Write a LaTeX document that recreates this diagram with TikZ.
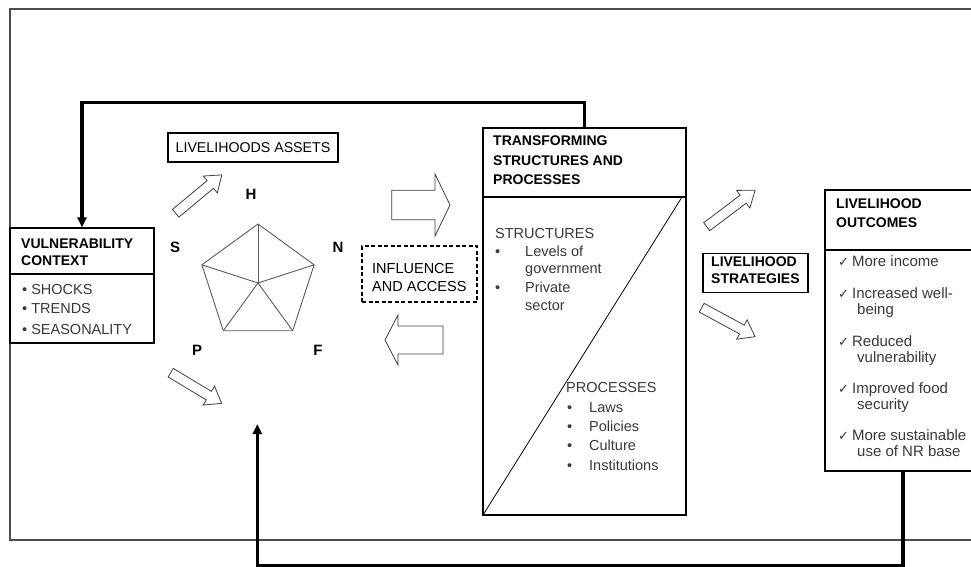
\documentclass[tikz,border=0pt]{standalone}
\usepackage{fontspec}
\setmainfont{Liberation Sans}
\newfontfamily\symfont{DejaVu Sans}
\usetikzlibrary{arrows.meta}
\tikzset{
  bx/.style={draw=black, line width=1.1pt, inner sep=0pt},
  ttl/.style={inner sep=0pt, anchor=base west, font=\fontsize{14}{16}\selectfont\bfseries},
  txt/.style={inner sep=0pt, anchor=base west, font=\fontsize{14.5}{16}\selectfont, text=black!78},
  otxt/.style={inner sep=0pt, anchor=base west, font=\fontsize{15}{16}\selectfont, text=black!78},
  lbl/.style={inner sep=0pt, font=\fontsize{15}{16}\selectfont\bfseries},
  fb/.style={line width=3.3pt, -{Triangle[length=10pt,width=9pt]}},
  frame/.style={draw=black!70, line width=1.3pt},
  pent/.style={draw=black!65, line width=0.9pt},
  pics/blockarrow/.style args={#1/#2/#3/#4}{code={
    \draw[line width=0.8pt, draw=black!75, fill=white, line join=miter]
      (0,-#2) -- (#1-#4,-#2) -- (#1-#4,-#3) -- (#1,0) -- (#1-#4,#3) -- (#1-#4,#2) -- (0,#2) -- cycle;
  }}
}
\newcommand\chk{{\symfont\fontsize{13}{14}\selectfont ✓}}
\begin{document}
\begin{tikzpicture}[x=1pt, y={(0pt,-1pt)}]
\useasboundingbox (0,0) rectangle (971,567);
% outer frame
\draw[frame] (985,9) -- (10,9) -- (10,540) -- (985,540);

% vulnerability context
\node[bx, minimum width=144pt, minimum height=115pt] (vul) at (82,285.5) {};
\draw[line width=1.1pt] (10,274) -- (154,274);
\node[ttl] (vt1) at (21,248) {VULNERABILITY};
\node[ttl] (vt2) at (21,265) {CONTEXT};
\node[txt] (vb1) at (22,294) {• SHOCKS};
\node[txt] (vb2) at (22,313) {• TRENDS};
\node[txt] (vb3) at (22,334) {• SEASONALITY};

% livelihood assets
\node[bx, minimum width=170pt, minimum height=29pt, font=\fontsize{14.2}{16}\selectfont] (la) at (253,147.5) {LIVELIHOODS ASSETS};

% pentagon
\coordinate (pc) at (258,283);
\coordinate (p1) at (258,224);
\coordinate (p2) at (314.1,264.8);
\coordinate (p3) at (292.7,330.7);
\coordinate (p4) at (223.3,330.7);
\coordinate (p5) at (201.9,264.8);
\draw[pent] (p1) -- (p2) -- (p3) -- (p4) -- (p5) -- cycle;
\foreach \v in {p1,p2,p3,p4,p5} \draw[pent] (pc) -- (\v);
\node[lbl] (lh) at (251,194) {H};
\node[lbl] (ls) at (175,247) {S};
\node[lbl] (ln) at (338,247) {N};
\node[lbl] (lp) at (197,350) {P};
\node[lbl] (lf) at (318,350) {F};

% block arrows
\pic[rotate=39.8] at (175.7,213.3) {blockarrow=60/5/11/15};
\pic[rotate=-31] at (170.7,372.7) {blockarrow=59.5/5/11/15};
\pic at (391.7,205) {blockarrow=58.3/14.7/31/15};
\pic[rotate=180] at (443,340) {blockarrow=58/14/25/13};
\pic[rotate=37] at (706.7,226.7) {blockarrow=60.7/5/11/15};
\pic[rotate=-28.5] at (701.7,307.7) {blockarrow=60.7/5/11/15};

% influence and access
\node[draw=black, line width=1.2pt, dash pattern=on 4pt off 2.5pt, minimum width=115pt, minimum height=56pt, inner sep=0pt] (ia) at (419.5,274) {};
\node[txt, text=black] (ia1) at (372,273) {INFLUENCE};
\node[txt, text=black] (ia2) at (372,291) {AND ACCESS};

% transforming structures and processes
\node[bx, minimum width=203pt, minimum height=387pt] (tsp) at (584.5,321.5) {};
\draw[line width=1.1pt] (483,197) -- (686,197);
\draw[line width=0.8pt] (483,515) -- (682,197);
\node[ttl] (t1) at (493,145) {TRANSFORMING};
\node[ttl] (t2) at (493,165) {STRUCTURES AND};
\node[ttl] (t3) at (493,184) {PROCESSES};
\node[txt] (s0) at (495,238) {STRUCTURES};
\node[txt] (s1b) at (495,256) {•};
\node[txt] (s1) at (525,256) {Levels of};
\node[txt] (s1c) at (525,273) {government};
\node[txt] (s2b) at (495,292) {•};
\node[txt] (s2) at (525,292) {Private};
\node[txt] (s2c) at (525,310) {sector};
\node[txt] (q0) at (566,392) {PROCESSES};
\node[txt] (q1b) at (567,412) {•};
\node[txt] (q1) at (589,412) {Laws};
\node[txt] (q2b) at (567,431) {•};
\node[txt] (q2) at (589,431) {Policies};
\node[txt] (q3b) at (567,450) {•};
\node[txt] (q3) at (589,450) {Culture};
\node[txt] (q4b) at (567,470) {•};
\node[txt] (q4) at (589,470) {Institutions};

% livelihood strategies
\node[bx, minimum width=105pt, minimum height=39pt] (ls2) at (755.5,273) {};
\node[ttl] (ls2a) at (711,266) {LIVELIHOOD};
\node[ttl] (ls2b) at (711,283) {STRATEGIES};

% livelihood outcomes
\node[bx, minimum width=156pt, minimum height=281pt] (out) at (903,330.5) {};
\draw[line width=1.1pt] (825,250) -- (981,250);
\node[ttl] (o1) at (836,208) {LIVELIHOOD};
\node[ttl] (o2) at (836,227) {OUTCOMES};
\node[otxt] (c1) at (838,266) {\chk\hspace{3pt}More income};
\node[otxt] (c2) at (838,298) {\chk\hspace{3pt}Increased well-};
\node[otxt] (c2b) at (857,314) {being};
\node[otxt] (c3) at (838,346) {\chk\hspace{3pt}Reduced};
\node[otxt] (c3b) at (857,362) {vulnerability};
\node[otxt] (c4) at (838,393) {\chk\hspace{3pt}Improved food};
\node[otxt] (c4b) at (857,409) {security};
\node[otxt] (c5) at (838,440) {\chk\hspace{3pt}More sustainable};
\node[otxt] (c5b) at (857,456) {use of NR base};

% feedback connectors
\coordinate (fbend) at (257.3,424);
\draw[fb] (tsp.north) -- ++(0,-25) -| (vul.north);
\draw[fb] (out.south) -- ++(0,94) -| (fbend);
\end{tikzpicture}
\end{document}
